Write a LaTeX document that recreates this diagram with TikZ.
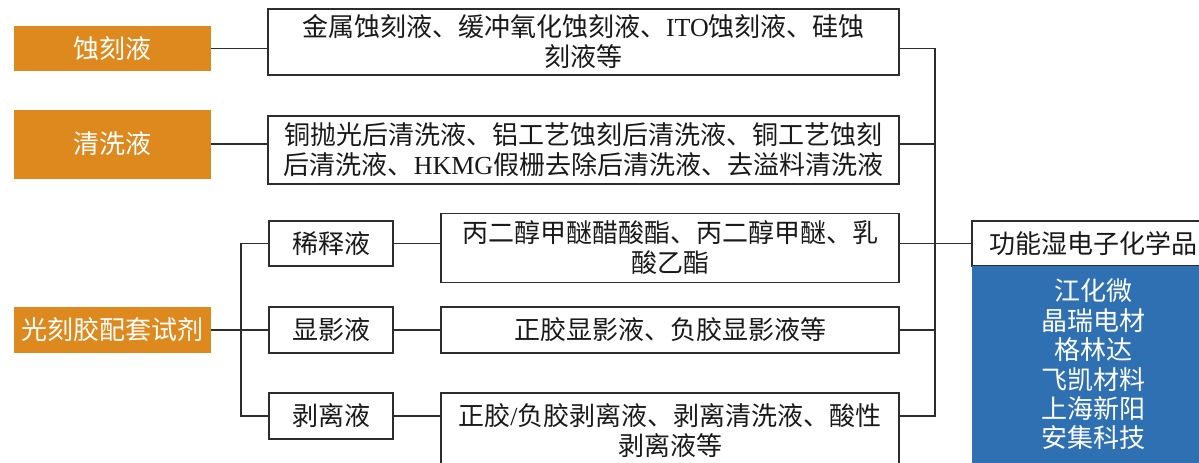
\documentclass[tikz,border=0pt]{standalone}
\usepackage{fontspec}
\setmainfont{Liberation Serif}
\newfontfamily\cjk{Noto Sans CJK SC}
\newcommand\lat[1]{{\rmfamily #1}}
\definecolor{orangeC}{RGB}{222,137,30}
\definecolor{blueC}{RGB}{46,112,178}
\definecolor{lineC}{RGB}{45,45,45}
\tikzset{
  txt/.style={font=\cjk\fontsize{26}{30}\selectfont, align=center, inner sep=0pt},
  wbox/.style={txt, draw=lineC, line width=1.8pt, fill=white, text=black!90},
  obox/.style={txt, fill=orangeC, text=white, minimum width=197pt},
  conn/.style={draw=lineC, line width=1.8pt},
}
\begin{document}
\begin{tikzpicture}[x=1pt,y=-1pt]
\useasboundingbox (0,0) rectangle (1199,463);
\clip (0,0) rectangle (1199,463);
\fill[white] (0,0) rectangle (1199,463);
% left orange categories
\node[obox, minimum height=45pt] (o1) at (112.5,48.5) {蚀刻液};
\node[obox, minimum height=69pt] (o2) at (112.5,144) {清洗液};
\node[obox, minimum height=46pt] (o3) at (112.5,330) {光刻胶配套试剂};
% description boxes
\node[wbox, minimum width=631pt, minimum height=66pt] (A) at (583.5,42) {金属蚀刻液、缓冲氧化蚀刻液、\lat{ITO}蚀刻液、硅蚀\\刻液等};
\node[wbox, minimum width=631pt, minimum height=68pt] (B) at (583.5,150) {铜抛光后清洗液、铝工艺蚀刻后清洗液、铜工艺蚀刻\\后清洗液、\lat{HKMG}假栅去除后清洗液、去溢料清洗液};
% photoresist sub-boxes
\node[wbox, minimum width=124pt, minimum height=45pt] (s1) at (331,243.5) {稀释液};
\node[wbox, minimum width=124pt, minimum height=46pt] (s2) at (331,330) {显影液};
\node[wbox, minimum width=124pt, minimum height=46pt] (s3) at (331,416) {剥离液};
\node[wbox, minimum width=458pt, minimum height=69pt] (C) at (670,248) {丙二醇甲醚醋酸酯、丙二醇甲醚、乳\\酸乙酯};
\node[wbox, minimum width=458pt, minimum height=46pt] (D) at (670,330) {正胶显影液、负胶显影液等};
\node[wbox, minimum width=458pt, minimum height=76pt] (E) at (670,431) {正胶\lat{/}负胶剥离液、剥离清洗液、酸性\\剥离液等};
% right boxes
\node[wbox, minimum width=242pt, minimum height=45pt] (R) at (1093,243.5) {功能湿电子化学品};
\node[txt, fill=blueC, text=white, minimum width=242pt, minimum height=197pt, font=\cjk\fontsize{26}{29.4}\selectfont] (Q) at (1093,364.5) {江化微\\晶瑞电材\\格林达\\飞凯材料\\上海新阳\\安集科技};
% bus coordinates
\coordinate (lb) at (241,330);
\coordinate (bt) at (935,48.5);
\coordinate (bb) at (935,416);
% left connectors
\draw[conn] (o1.east) -- (o1.east -| A.west);
\draw[conn] (o2.east) -- (o2.east -| B.west);
\draw[conn] (o3.east) -- (s2.west);
\draw[conn] (s1.west) -- (s1.west -| lb) -- (s3.west -| lb) -- (s3.west);
\draw[conn] (s1.east) -- (s1.east -| C.west);
\draw[conn] (s2.east) -- (D.west);
\draw[conn] (s3.east) -- (s3.east -| E.west);
% right connectors
\draw[conn] (A.east |- bt) -- (bt) -- (bb) -- (bb -| E.east);
\draw[conn] (B.east |- o2.east) -- (o2.east -| bt);
\draw[conn] (C.east |- s1.east) -- (s1.east -| bt);
\draw[conn] (D.east) -- (D.east -| bt);
\draw[conn] (R.west) -- (R.west -| bt);
\end{tikzpicture}
\end{document}
